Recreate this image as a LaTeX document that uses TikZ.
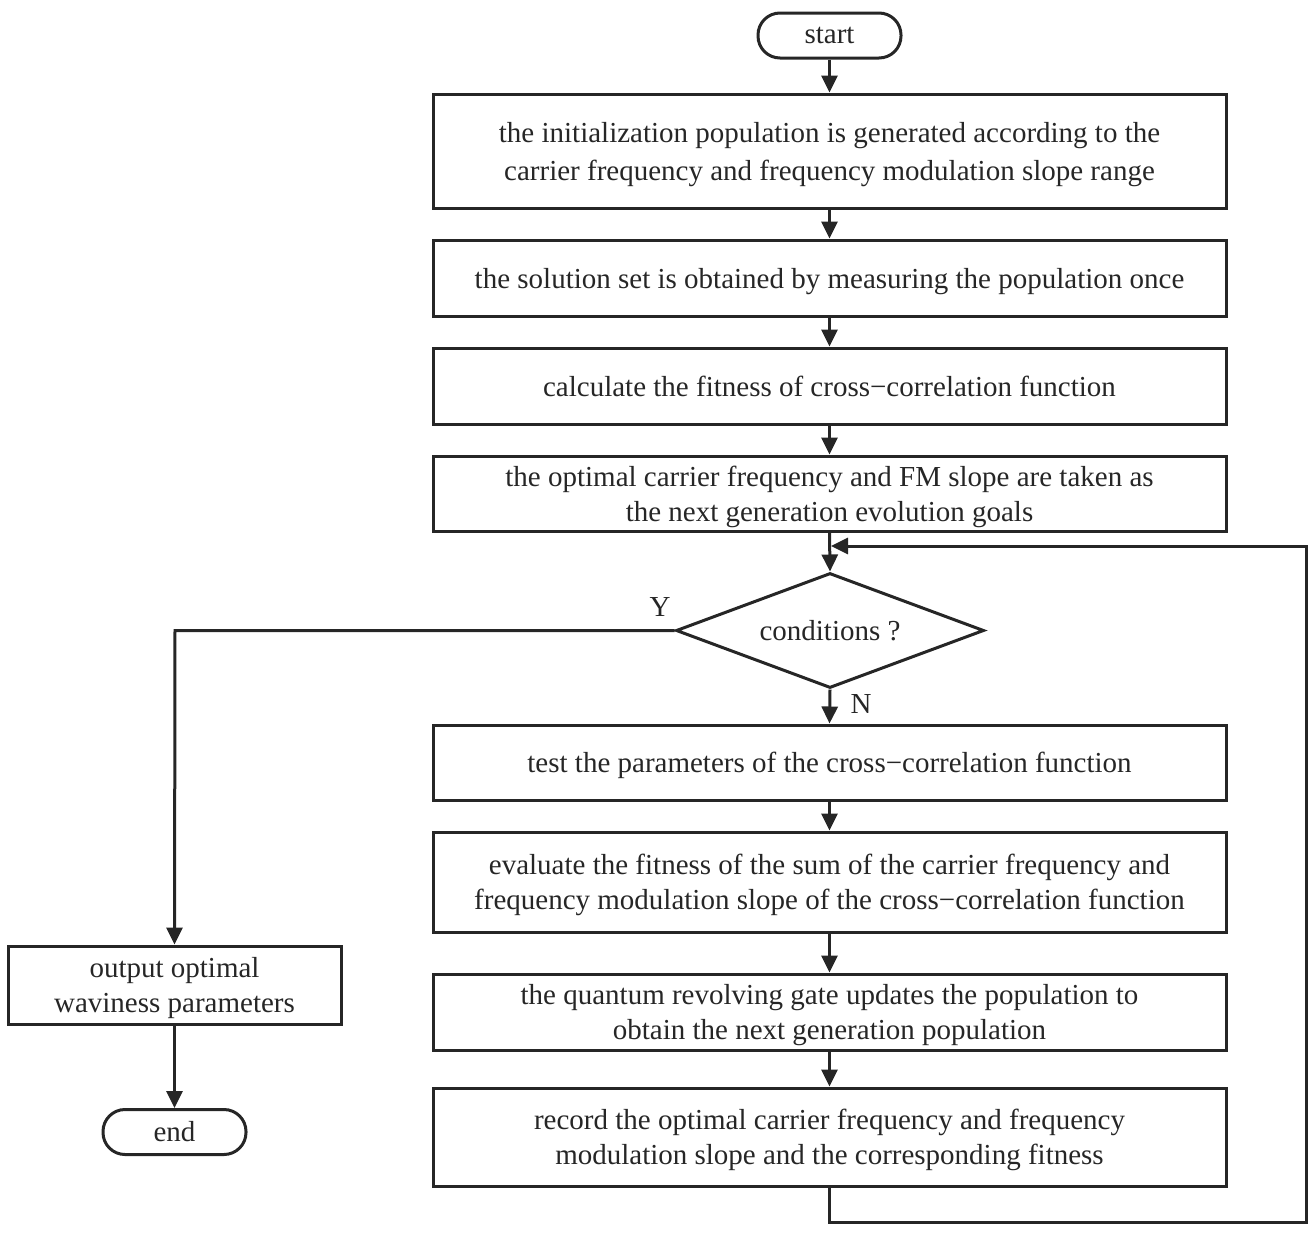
\documentclass[tikz,border=0pt]{standalone}
\usepackage{fontspec}
\setmainfont{Liberation Serif}
\usetikzlibrary{shapes.geometric,arrows.meta}
\begin{document}
\begin{tikzpicture}[x=1pt,y=-1pt,
  every node/.style={font=\fontsize{29}{35}\selectfont, text=black!85},
  proc/.style={draw, line width=3pt, minimum width=793pt, inner sep=0pt, align=center, text depth=0pt},
  term/.style={draw, line width=3pt, rounded corners=22pt, minimum width=143pt, minimum height=45pt, inner sep=0pt},
  dec/.style={draw, line width=3pt, diamond, aspect=2.68, minimum width=308pt, minimum height=115pt, inner sep=0pt},
  conn/.style={line width=3pt, draw=black!85, -{Triangle[length=17pt,width=16pt]}},
  lab/.style={inner sep=0pt}]
\useasboundingbox (0,0) rectangle (1314,1232);
\tikzset{every path/.style={draw=black!85}}
\node[term] (start) at (829.5,35.5) {start};
\node[proc, minimum height=114pt, font=\fontsize{29}{38}\selectfont] (b1) at (829.5,151) {the initialization population is generated according to the\\carrier frequency and frequency modulation slope range};
\node[proc, minimum height=76pt] (b2) at (829.5,278) {the solution set is obtained by measuring the population once};
\node[proc, minimum height=76pt] (b3) at (829.5,386) {calculate the fitness of cross\textminus correlation function};
\node[proc, minimum height=75pt] (b4) at (829.5,493.5) {the optimal carrier frequency and FM slope are taken as\\the next generation evolution goals};
\node[dec] (d) at (830,630.5) {conditions ?};
\node[proc, minimum height=75pt] (b6) at (829.5,762.5) {test the parameters of the cross\textminus correlation function};
\node[proc, minimum height=100pt] (b7) at (829.5,882) {evaluate the fitness of the sum of the carrier frequency and\\frequency modulation slope of the cross\textminus correlation function};
\node[proc, minimum height=76pt] (b8) at (829.5,1012) {the quantum revolving gate updates the population to\\obtain the next generation population};
\node[proc, minimum height=98pt] (b9) at (829.5,1137) {record the optimal carrier frequency and frequency\\modulation slope and the corresponding fitness};
\node[proc, minimum width=333pt, minimum height=78pt] (out) at (174.5,985) {output optimal\\waviness parameters};
\node[term] (end) at (174.5,1132) {end};
\node[lab] (Y) at (660,607) {Y};
\node[lab] (N) at (861,704) {N};
\coordinate (lt) at (175,630.5);
\coordinate (lb) at (829.5,1222);
\coordinate (rb) at (1306,1222);
\coordinate (rt) at (1306,546);
\coordinate (rin) at (831,546);
\draw[conn] (start) -- (b1);
\draw[conn] (b1) -- (b2);
\draw[conn] (b2) -- (b3);
\draw[conn] (b3) -- (b4);
\draw[conn] (b4.south) -- (d.north);
\draw[conn] (d.south) -- (b6.north);
\draw[conn] (b6) -- (b7);
\draw[conn] (b7) -- (b8);
\draw[conn] (b8) -- (b9);
\draw[conn] (d.west) -- (lt) -- (out.north);
\draw[conn] (out) -- (end);
\draw[conn] (b9.south) -- (lb) -- (rb) -- (rt) -- (rin);
\end{tikzpicture}
\end{document}
